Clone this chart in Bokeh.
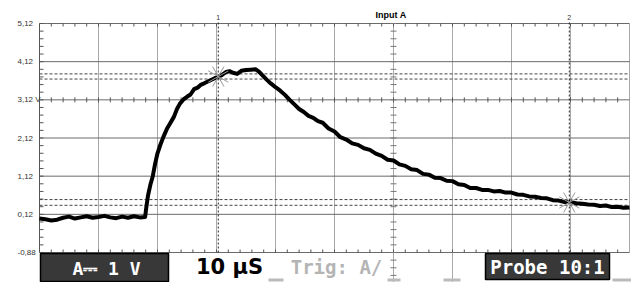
from bokeh.plotting import figure
from bokeh.models import Label, Range1d
from bokeh.core.properties import value
from bokeh.embed import file_html
from bokeh.resources import INLINE

# ---- data ----
time_us = [0, 1, 2, 3, 4, 5, 6, 7, 8, 9, 10, 11, 12, 13, 14, 15, 16, 17, 17.9,
           18.1, 18.4, 18.8, 19.2, 19.6, 20.0, 20.5, 21.0, 21.6, 22.2, 22.8, 23.3, 23.8,
           24.4, 25.0, 25.6, 26.2, 26.8, 27.4, 28.0, 28.8, 29.6, 30.3, 31.0, 31.6, 32.2,
           32.8, 33.5, 34.2, 35.0, 35.8, 36.6, 37.2, 37.8, 38.5, 39.2, 40.0, 40.8, 41.6,
           42.4, 43.2, 44.0, 44.8, 45.6, 46.4, 47.2, 48.0, 49.0, 50.0, 51.0, 52.0, 53.0,
           54.0, 55.0, 56.0, 57.0, 58.0, 59.0, 60.0, 61.0, 62.0, 63.0, 64.0, 65.0, 66.0,
           67.0, 68.0, 69.0, 70.0, 71.0, 72.0, 73.0, 74.0, 75.0, 76.0, 77.0, 78.0, 79.0,
           80.0, 81.0, 82.0, 83.0, 84.0, 85.0, 86.0, 87.0, 88.0, 89.0, 90.0, 91.0, 92.0,
           93.0, 94.0, 95.0, 96.0, 97.0, 98.0, 99.0, 100.0]
volts = [0.01, -0.01, -0.04, -0.02, 0.03, 0.06, 0.01, 0.04, 0.07, 0.03, 0.05, 0.08, 0.04,
         0.02, 0.06, 0.03, 0.07, 0.04, 0.05,
         0.30, 0.62, 0.90, 1.12, 1.45, 1.72, 1.95, 2.15, 2.36, 2.52, 2.68, 2.88, 3.02,
         3.13, 3.20, 3.26, 3.40, 3.44, 3.52, 3.56, 3.62, 3.68, 3.72, 3.78, 3.85, 3.87,
         3.83, 3.80, 3.88, 3.90, 3.91, 3.92, 3.86, 3.76, 3.65, 3.55, 3.45, 3.36, 3.25,
         3.12, 3.00, 2.88, 2.80, 2.70, 2.65, 2.56, 2.52, 2.37, 2.29, 2.14, 2.08, 1.98,
         1.94, 1.85, 1.81, 1.71, 1.65, 1.55, 1.53, 1.43, 1.39, 1.30, 1.28, 1.18, 1.16,
         1.08, 1.07, 1.00, 0.99, 0.91, 0.89, 0.81, 0.81, 0.76, 0.76, 0.72, 0.73, 0.69,
         0.69, 0.64, 0.63, 0.59, 0.58, 0.55, 0.54, 0.49, 0.48, 0.44, 0.44, 0.41, 0.40,
         0.38, 0.37, 0.34, 0.35, 0.31, 0.32, 0.29, 0.30]

y_ticks = [-0.88, 0.12, 1.12, 2.12, 3.12, 4.12, 5.12]
y_tick_labels = ["-0,88", "0,12", "1,12", "2,12", "3,12 V", "4,12", "5,12"]
x_divisions = [10, 20, 30, 40, 50, 60, 70, 80, 90, 100]

cursor_t = [30.3, 89.8]
cursor_v = [3.73, 0.43]
cursor_names = ["1", "2"]
level_lines = [3.80, 3.665, 0.507, 0.357]

title_text = "Input A"
scale_text = "A\u2393 1 V"
time_text = "10 \u00b5S"
trig_text = "Trig: A/"
probe_text = "Probe 10:1"

# ---- layout: the frame covers the whole canvas, scope area is a sub-region ----
W, H = 631, 282
SX0, SX1, SY0, SY1 = 39, 629, 23, 252      # scope area in pixels
X0, X1 = 0, 100
Y0, Y1 = -0.88, 5.12
px_x = (X1 - X0) / (SX1 - SX0)
px_y = (Y1 - Y0) / (SY1 - SY0)


def dx(sx):
    return X0 + (sx - SX0) * px_x


def dy(sy):
    return Y1 - (sy - SY0) * px_y


p = figure(width=W, height=H, x_range=Range1d(dx(0), dx(W)), y_range=Range1d(dy(H), dy(0)),
           output_backend="svg", toolbar_location=None,
           min_border_left=0, min_border_right=0, min_border_top=0, min_border_bottom=0)
p.outline_line_color = None
p.background_fill_color = "white"
p.border_fill_color = "white"
p.axis.visible = False
p.grid.visible = False

# grid lines
n = len(x_divisions)
p.segment(x0=x_divisions, x1=x_divisions, y0=[Y0] * n, y1=[Y1] * n,
          line_color="#a8a8a8", line_width=1)
m = len(y_ticks)
p.segment(x0=[X0] * m, x1=[X1] * m, y0=y_ticks, y1=y_ticks, line_color="#6a6a6a", line_width=1)
p.segment(x0=[X0], x1=[X0], y0=[Y0], y1=[Y1], line_color="#555555", line_width=1)
# centre column and next grid line continue through the status bar
p.segment(x0=[60, 70], x1=[60, 70], y0=[Y0, Y0], y1=[dy(H), dy(H)],
          line_color="#a8a8a8", line_width=1)

# tick marks
small_t = [X0 + 2 * k for k in range(1, 50)]
k = len(small_t)
minor = [round(Y0 + 0.2 * i, 2) for i in range(31)]
j = len(minor)
tick_col = "#555555"
p.segment(x0=small_t, x1=small_t, y0=[Y1] * k, y1=[Y1 - 3 * px_y] * k, line_color=tick_col)
p.segment(x0=small_t, x1=small_t, y0=[Y0] * k, y1=[Y0 + 3 * px_y] * k, line_color=tick_col)
p.segment(x0=small_t, x1=small_t, y0=[3.12 - 2.5 * px_y] * k, y1=[3.12 + 2.5 * px_y] * k,
          line_color=tick_col)
p.segment(x0=[60 - 3 * px_x] * j, x1=[60 + 3 * px_x] * j, y0=minor, y1=minor, line_color="#777777")
p.segment(x0=[X0] * j, x1=[X0 + 4 * px_x] * j, y0=minor, y1=minor, line_color=tick_col)
below = [round(Y0 - 0.2 * i, 2) for i in range(1, 4)]
p.segment(x0=[60 - 3 * px_x] * 3, x1=[60 + 3 * px_x] * 3, y0=below, y1=below, line_color="#777777")

# small grey marks along the bottom edge of the status bar
p.quad(left=[dx(268), dx(387), dx(443), dx(612)], right=[dx(283), dx(400), dx(460), dx(631)],
       top=[dy(278)] * 4, bottom=[dy(281)] * 4, fill_color="#bbbbbb", line_color=None)

# y labels
p.text(x=[dx(17)] * m, y=y_ticks, text=y_tick_labels, text_font=value("Liberation Sans"),
       text_font_size="8px", text_align="left", text_baseline="middle", text_color="#333333")

# cursor level lines and cursors
p.segment(x0=[X0] * len(level_lines), x1=[X1] * len(level_lines), y0=level_lines, y1=level_lines,
          line_color="#444444", line_dash="3 2", line_width=1)
p.segment(x0=cursor_t, x1=cursor_t, y0=[Y0] * 2, y1=[dy(20)] * 2,
          line_color="#222222", line_dash="2 2", line_width=1)

# trace
p.line(time_us, volts, line_color="black", line_width=4, line_join="round")

# cursor stars
p.scatter(cursor_t, cursor_v, marker="x", size=23, angle=0.27, line_color="#999999",
          line_width=1)
p.scatter(cursor_t, cursor_v, marker="x", size=23, angle=-0.27, line_color="#999999",
          line_width=1)

# texts
p.add_layout(Label(x=dx(390.5), y=dy(14), text=title_text, text_align="center",
                   text_baseline="middle", text_font="Liberation Sans",
                   text_font_style="bold", text_font_size="9px", text_color="black"))
for t, s in zip(cursor_t, cursor_names):
    p.add_layout(Label(x=t, y=dy(16.5), text=s, text_align="center", text_baseline="middle",
                       text_font="Liberation Sans", text_font_size="7px", text_color="#333333"))

# bottom status bar
p.quad(left=[dx(40), dx(485)], right=[dx(168), dx(609)], top=[dy(253), dy(253)],
       bottom=[dy(281), dy(279)], fill_color="#383838", line_color="black", line_width=1.5)
p.add_layout(Label(x=dx(106), y=dy(267.5), text=scale_text, text_align="center",
                   text_baseline="middle", text_font="DejaVu Sans Mono", text_font_style="bold",
                   text_font_size="18px", text_color="white"))
p.add_layout(Label(x=dx(229), y=dy(266), text=time_text, text_align="center",
                   text_baseline="middle", text_font="DejaVu Sans", text_font_style="bold",
                   text_font_size="21px", text_color="black"))
p.add_layout(Label(x=dx(336), y=dy(266), text=trig_text, text_align="center",
                   text_baseline="middle", text_font="DejaVu Sans Mono", text_font_style="bold",
                   text_font_size="19px", text_color="#b4b4b4"))
p.add_layout(Label(x=dx(547), y=dy(266), text=probe_text, text_align="center",
                   text_baseline="middle", text_font="DejaVu Sans Mono", text_font_style="bold",
                   text_font_size="19px", text_color="white"))

open("out.html", "w").write(file_html(p, INLINE))
